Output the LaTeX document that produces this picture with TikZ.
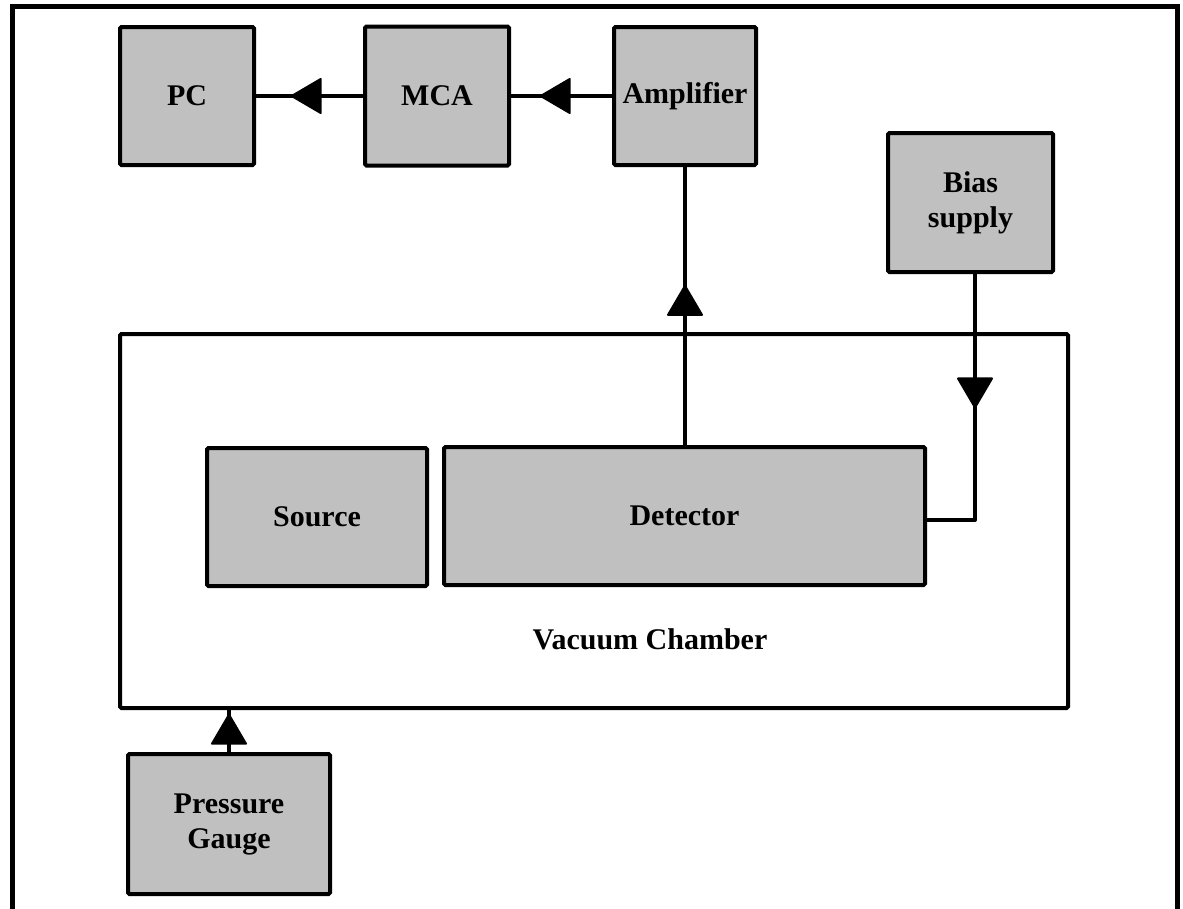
\documentclass[tikz,border=0pt]{standalone}
\usepackage{fontspec}
\setmainfont{Liberation Serif}
\usetikzlibrary{decorations.markings}
\definecolor{boxgray}{RGB}{192,192,192}
\tikzset{
  blk/.style={draw=black, line width=4pt, fill=boxgray, rectangle, inner sep=0pt,
    outer sep=0pt, rounded corners=1.5pt, align=center,
    font=\fontsize{30}{35}\selectfont\bfseries},
  chamberbox/.style={draw=black, line width=4pt, rectangle, inner sep=0pt, outer sep=0pt, rounded corners=1.5pt},
  lbl/.style={inner sep=0pt, font=\fontsize{30}{35}\selectfont\bfseries},
  wire/.style={line width=4pt, line join=round},
  outerframe/.style={line width=5pt},
  midarrow/.style={postaction={decorate}, decoration={markings,
    mark=at position #1 with {\filldraw[line width=2pt, line join=round]
      (-14.5pt,-17pt) -- (14.5pt,0pt) -- (-14.5pt,17pt) -- cycle;}}},
  midarrow/.default=0.5
}
\begin{document}
\begin{tikzpicture}[x=1pt,y=-1pt]
\useasboundingbox (0,0) rectangle (1183,908);
% outer frame (open at the bottom)
\coordinate (fbl) at (12.5,912);
\coordinate (ftl) at (12.5,6.5);
\coordinate (ftr) at (1177,6.5);
\coordinate (fbr) at (1177,912);
\draw[outerframe] (fbl) -- (ftl) -- (ftr) -- (fbr);

% vacuum chamber
\node[chamberbox, minimum width=948pt, minimum height=374pt] (chamber) at (594,521) {};
\node[lbl] (vclabel) at (650,639) {Vacuum Chamber};

% blocks
\node[blk, minimum width=134pt, minimum height=138pt] (pc) at (187,96) {PC};
\node[blk, minimum width=144pt, minimum height=139pt] (mca) at (437,96) {MCA};
\node[blk, minimum width=142pt, minimum height=138pt] (amp) at (685,96) {Amplifier};
\node[blk, minimum width=165pt, minimum height=139pt] (bias) at (970.5,202.5) {Bias\\supply};
\node[blk, minimum width=220pt, minimum height=138pt] (src) at (317,517) {Source};
\node[blk, minimum width=481pt, minimum height=138pt] (det) at (684.5,516) {Detector};
\node[blk, minimum width=202pt, minimum height=140pt] (pg) at (229,824) {Pressure\\Gauge};

% connectors
\draw[wire, midarrow=0.53] (mca.west) -- (pc.east);
\draw[wire, midarrow=0.56] (amp.west) -- (mca.east);
\draw[wire, midarrow=0.52] (amp.south |- det.north) -- (amp.south);
\coordinate (bend) at (975,520);
\draw[wire, midarrow=0.406] (bias.south -| bend) -- (bend) -- (det.east |- bend);
\draw[wire, midarrow=0.54] (pg.north) -- (pg.north |- chamber.south);
\end{tikzpicture}
\end{document}
